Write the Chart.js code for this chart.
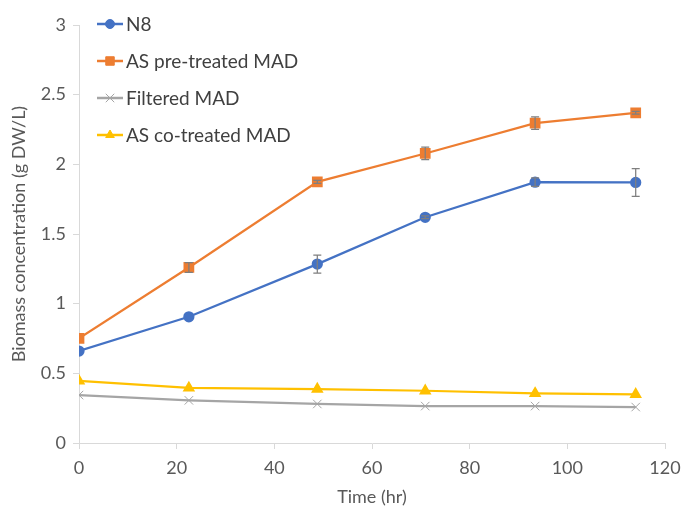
<!DOCTYPE html>
<html>
<head>
<meta charset="utf-8">
<script src="https://cdn.jsdelivr.net/npm/chart.js@4/dist/chart.umd.min.js"></script>
<style>
  html, body { margin: 0; padding: 0; background: #fff; }
  #wrap { width: 682px; height: 508px; }
</style>
</head>
<body>
<div id="wrap"><canvas id="growth"></canvas></div>
<script>
// sampling times (hr)
const hours = [0, 22.5, 48.8, 70.9, 93.4, 114];

// biomass (g DW/L) per condition, with standard deviations
const n8 = [0.66, 0.906, 1.284, 1.62, 1.872, 1.87];
const n8Err = [0, 0, 0.065, 0.01, 0.03, 0.1];
const asPre = [0.751, 1.26, 1.874, 2.078, 2.296, 2.37];
const asPreErr = [0, 0.035, 0.01, 0.045, 0.045, 0.01];
const filtered = [0.344, 0.306, 0.28, 0.265, 0.265, 0.258];
const asCo = [0.445, 0.395, 0.387, 0.375, 0.356, 0.349];

const seriesNames = ['N8', 'AS pre-treated MAD', 'Filtered MAD', 'AS co-treated MAD'];

const FONT = 'Lato, "Open Sans", sans-serif';
const TXT = '#595959';

function pts(ys) {
    return ys.map((y, i) => ({ x: hours[i], y: y }));
}

// vertical error bars with caps
const errorBars = {
    id: 'errorBars',
    afterDatasetsDraw(chart) {
        const ctx = chart.ctx;
        const xs = chart.scales.x, ys = chart.scales.y;
        ctx.save();
        ctx.strokeStyle = '#7f7f7f';
        ctx.lineWidth = 1.25;
        chart.data.datasets.forEach(ds => {
            if (!ds.errors) return;
            ds.data.forEach((p, i) => {
                const e = ds.errors[i];
                if (!e) return;
                const px = xs.getPixelForValue(p.x);
                const top = ys.getPixelForValue(p.y + e);
                const bot = ys.getPixelForValue(p.y - e);
                ctx.beginPath();
                ctx.moveTo(px, top); ctx.lineTo(px, bot);
                ctx.moveTo(px - 4, top); ctx.lineTo(px + 4, top);
                ctx.moveTo(px - 4, bot); ctx.lineTo(px + 4, bot);
                ctx.stroke();
            });
        });
        ctx.restore();
    }
};

// legend drawn inside the plot, line sample + marker
const innerLegend = {
    id: 'innerLegend',
    afterDraw(chart) {
        const ctx = chart.ctx;
        const area = chart.chartArea;
        const x0 = area.left + 18;
        ctx.save();
        ctx.font = '19px ' + FONT;
        ctx.textBaseline = 'middle';
        chart.data.datasets.forEach((ds, i) => {
            const y = area.top - 1 + i * 37;
            ctx.strokeStyle = ds.borderColor;
            ctx.lineWidth = 2.5;
            ctx.beginPath();
            ctx.moveTo(x0, y); ctx.lineTo(x0 + 26, y);
            ctx.stroke();
            ctx.fillStyle = ds.pointBackgroundColor;
            ctx.strokeStyle = ds.pointBorderColor;
            ctx.lineWidth = ds.pointBorderWidth || 1;
            Chart.helpers.drawPoint(ctx, {
                pointStyle: ds.pointStyle,
                radius: ds.pointRadius,
                borderWidth: ds.pointBorderWidth || 1,
                rotation: 0
            }, x0 + 13, y);
            ctx.fillStyle = '#404040';
            ctx.fillText(ds.label, x0 + 29, y + 1);
        });
        ctx.restore();
    }
};

new Chart(document.getElementById('growth'), {
    type: 'line',
    data: {
        datasets: [
            {
                label: seriesNames[0], data: pts(n8), errors: n8Err,
                borderColor: '#4472C4', backgroundColor: '#4472C4',
                pointBackgroundColor: '#4472C4', pointBorderColor: '#4472C4',
                pointStyle: 'circle', pointRadius: 4.5, borderWidth: 2.25
            },
            {
                label: seriesNames[1], data: pts(asPre), errors: asPreErr,
                borderColor: '#ED7D31', backgroundColor: '#ED7D31',
                pointBackgroundColor: '#ED7D31', pointBorderColor: '#ED7D31',
                pointStyle: 'rect', pointRadius: 6, borderWidth: 2.25
            },
            {
                label: seriesNames[2], data: pts(filtered),
                borderColor: '#A5A5A5', backgroundColor: '#A5A5A5',
                pointBackgroundColor: '#A5A5A5', pointBorderColor: '#A5A5A5',
                pointStyle: 'crossRot', pointRadius: 6, pointBorderWidth: 1, borderWidth: 2.25
            },
            {
                label: seriesNames[3], data: pts(asCo),
                borderColor: '#FFC000', backgroundColor: '#FFC000',
                pointBackgroundColor: '#FFC000', pointBorderColor: '#FFC000',
                pointStyle: 'triangle', pointRadius: 5, borderWidth: 2.25
            }
        ]
    },
    options: {
        responsive: true,
        maintainAspectRatio: false,
        animation: false,
        layout: { padding: { top: 25, right: 17, left: 0, bottom: 0 } },
        plugins: { legend: { display: false }, tooltip: { enabled: false } },
        scales: {
            x: {
                type: 'linear', min: 0, max: 120,
                afterFit: s => { s.height = 65; s.paddingLeft = 0; s.paddingRight = 0; },
                ticks: { stepSize: 20, color: TXT, font: { family: FONT, size: 18 }, padding: 8, maxRotation: 0 },
                grid: { drawOnChartArea: false, drawTicks: true, tickLength: 6, color: '#d9d9d9' },
                border: { display: true, color: '#d9d9d9', width: 1 },
                title: { display: true, text: 'Time (hr)', color: TXT, font: { family: FONT, size: 18 }, padding: { top: 0, bottom: 0 } }
            },
            y: {
                min: 0, max: 3,
                afterFit: s => { s.width = 79; s.paddingTop = 0; s.paddingBottom = 0; },
                ticks: { stepSize: 0.5, color: TXT, font: { family: FONT, size: 18 }, padding: 7, callback: v => String(v) },
                grid: { drawOnChartArea: false, drawTicks: true, tickLength: 6, color: '#d9d9d9' },
                border: { display: true, color: '#d9d9d9', width: 1 },
                title: { display: true, text: 'Biomass concentration (g DW/L)', color: TXT, font: { family: FONT, size: 18 }, padding: { top: 8, bottom: 0 } }
            }
        }
    },
    plugins: [errorBars, innerLegend]
});
</script>
</body>
</html>
